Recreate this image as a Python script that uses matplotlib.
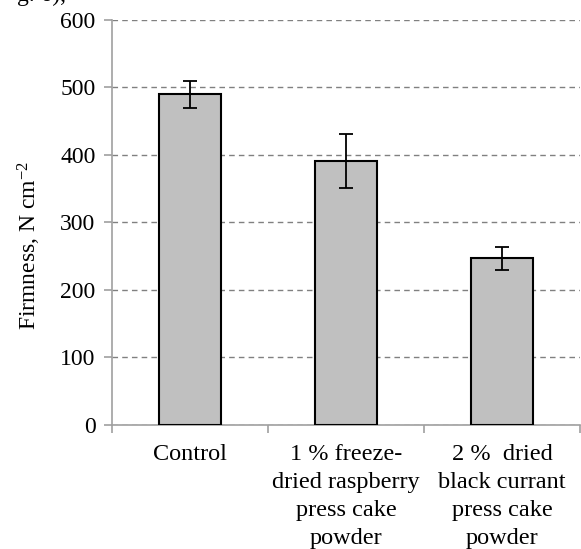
import matplotlib
matplotlib.use("Agg")
import matplotlib.pyplot as plt

plt.rcParams['font.family'] = ['Liberation Serif', 'DejaVu Serif']
plt.rcParams['mathtext.fontset'] = 'custom'
plt.rcParams['mathtext.rm'] = 'Liberation Serif'
plt.rcParams['mathtext.it'] = 'Liberation Serif:italic'

categories = ["Control",
              "1 % freeze-\ndried raspberry\npress cake\npowder",
              "2 %  dried\nblack currant\npress cake\npowder"]
firmness = [490, 391, 247]
errors = [20, 40, 17]
y_ticks = [0, 100, 200, 300, 400, 500, 600]

fig = plt.figure(figsize=(5.81, 5.49), dpi=100)
ax = fig.add_axes([0.193, 0.226, 0.805, 0.738])

pos = [i + 0.5 for i in range(len(categories))]
ax.bar(pos, firmness, width=0.4, color='#c0c0c0', edgecolor='black', linewidth=1.5, zorder=3)
ax.errorbar(pos, firmness, yerr=errors, fmt='none', ecolor='black', elinewidth=1.3,
            capsize=5, capthick=1.3, zorder=4)

ax.set_xlim(0, 3)
ax.set_ylim(0, 600)
ax.set_yticks(y_ticks)
ax.yaxis.grid(True, linestyle='--', color='#808080', linewidth=1, dashes=(4, 3), zorder=0)

ax.set_xticks([0, 1, 2, 3])
ax.set_xticklabels([])
ax.set_xticks(pos, minor=True)
ax.set_xticklabels(categories, minor=True, fontsize=17.5, linespacing=1.42)
ax.tick_params(axis='x', which='minor', length=0, pad=14)
ax.tick_params(axis='x', which='major', length=6, color='#a0a0a0', width=1.2)
ax.tick_params(axis='y', length=6, color='#a0a0a0', width=1.2, labelsize=17, pad=6)

for s in ['top', 'right']:
    ax.spines[s].set_visible(False)
for s in ['left', 'bottom']:
    ax.spines[s].set_color('#a0a0a0')
    ax.spines[s].set_linewidth(1.2)

ax.set_ylabel("Firmness, N cm$^{-2}$", fontsize=17)
ax.yaxis.set_label_coords(-0.148, 0.442)

fig.text(0.03, 1.008, "g. 6),", fontsize=17, va='center')

fig.savefig("out.png", dpi=100)
